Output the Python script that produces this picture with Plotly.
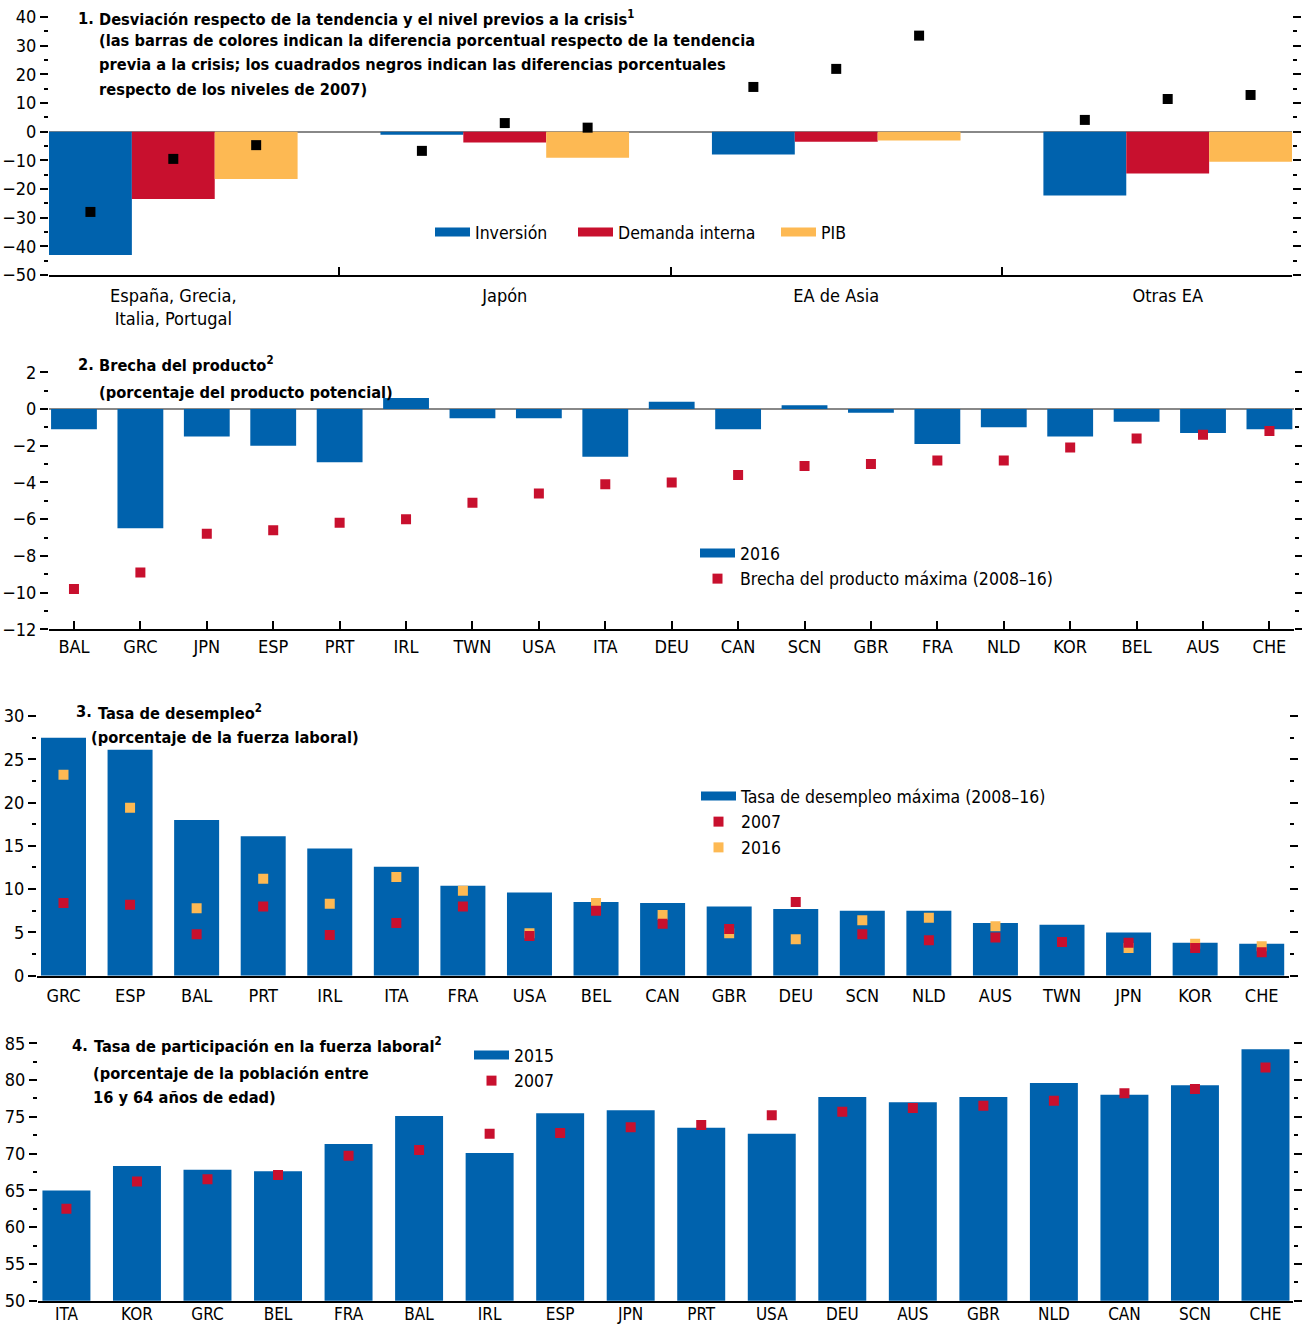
import plotly.graph_objects as go

W, H = 1302, 1325
FONT = "Liberation Sans Narrow, DejaVu Sans Condensed, Arial Narrow, sans-serif"
BLUE = "#0062ad"
RED = "#c8102e"
YELLOW = "#fdb953"
BLACK = "#000000"

# ---------------- panel 1 data ----------------
p1_groups = ["España, Grecia,<br>Italia, Portugal", "Japón", "EA de Asia", "Otras EA"]
p1_trend_inv = [-43.0, -1.1, -8.0, -22.3]
p1_trend_dem = [-23.5, -3.8, -3.5, -14.6]
p1_trend_pib = [-16.5, -9.1, -3.1, -10.5]
p1_lvl_inv = [-28.0, -6.7, 15.6, 4.1]
p1_lvl_dem = [-9.5, 3.0, 21.9, 11.4]
p1_lvl_pib = [-4.7, 1.4, 33.5, 12.8]

# ---------------- panel 2 data ----------------
p2_cty = ["BAL", "GRC", "JPN", "ESP", "PRT", "IRL", "TWN", "USA", "ITA", "DEU",
          "CAN", "SCN", "GBR", "FRA", "NLD", "KOR", "BEL", "AUS", "CHE"]
p2_gap_2016 = [-1.1, -6.5, -1.5, -2.0, -2.9, 0.6, -0.5, -0.5, -2.6, 0.4,
               -1.1, 0.2, -0.2, -1.9, -1.0, -1.5, -0.7, -1.3, -1.1]
p2_gap_max = [-9.8, -8.9, -6.8, -6.6, -6.2, -6.0, -5.1, -4.6, -4.1, -4.0,
              -3.6, -3.1, -3.0, -2.8, -2.8, -2.1, -1.6, -1.4, -1.2]

# ---------------- panel 3 data ----------------
p3_cty = ["GRC", "ESP", "BAL", "PRT", "IRL", "ITA", "FRA", "USA", "BEL", "CAN",
          "GBR", "DEU", "SCN", "NLD", "AUS", "TWN", "JPN", "KOR", "CHE"]
p3_max = [27.5, 26.1, 18.0, 16.1, 14.7, 12.6, 10.4, 9.6, 8.5, 8.4,
          8.0, 7.7, 7.5, 7.5, 6.1, 5.9, 5.0, 3.8, 3.7]
p3_2007 = [8.4, 8.2, 4.8, 8.0, 4.7, 6.1, 8.0, 4.6, 7.5, 6.0,
           5.4, 8.5, 4.8, 4.1, 4.4, 3.9, 3.8, 3.2, 2.7]
p3_2016 = [23.2, 19.4, 7.8, 11.2, 8.3, 11.4, 9.8, 4.9, 8.4, 7.0,
           4.9, 4.2, 6.4, 6.7, 5.7, 3.9, 3.2, 3.7, 3.4]

# ---------------- panel 4 data ----------------
p4_cty = ["ITA", "KOR", "GRC", "BEL", "FRA", "BAL", "IRL", "ESP", "JPN", "PRT",
          "USA", "DEU", "AUS", "GBR", "NLD", "CAN", "SCN", "CHE"]
p4_2015 = [65.0, 68.3, 67.8, 67.6, 71.3, 75.1, 70.1, 75.5, 75.9, 73.5,
           72.7, 77.7, 77.0, 77.7, 79.6, 78.0, 79.3, 84.2]
p4_2007 = [62.5, 66.2, 66.5, 67.1, 69.7, 70.5, 72.7, 72.8, 73.6, 73.9,
           75.2, 75.7, 76.2, 76.5, 77.2, 78.2, 78.8, 81.7]


def fx(p):
    return p / W


def fy(p):
    return 1 - p / H


fig = go.Figure()

# panel 1: bars grouped per region, black squares centred on each bar
pos = list(range(len(p1_groups)))
p1 = [
    ("Inversión", p1_trend_inv, p1_lvl_inv, BLUE, "legend"),
    ("Demanda interna", p1_trend_dem, p1_lvl_dem, RED, "legend5"),
    ("PIB", p1_trend_pib, p1_lvl_pib, YELLOW, "legend6"),
]
for name, vals, lvls, col, leg in p1:
    fig.add_trace(go.Bar(x=pos, y=vals, marker_color=col, marker_line_width=0,
                         showlegend=False, xaxis="x", yaxis="y"))
for k, (name, vals, lvls, col, leg) in enumerate(p1):
    fig.add_trace(go.Scatter(x=[p + (k - 1) * 0.25 for p in pos], y=lvls, mode="markers",
                             marker=dict(symbol="square", size=10, color=BLACK),
                             showlegend=False, xaxis="x", yaxis="y"))
for name, vals, lvls, col, leg in p1:
    fig.add_trace(go.Scatter(x=[None], y=[None], mode="lines", name=name,
                             line=dict(color=col, width=9), legend=leg,
                             xaxis="x", yaxis="y"))

# panel 2
fig.add_trace(go.Bar(x=p2_cty, y=p2_gap_2016, width=0.69, marker_color=BLUE,
                     marker_line_width=0, showlegend=False, xaxis="x2", yaxis="y2"))
fig.add_trace(go.Scatter(x=p2_cty, y=p2_gap_max, mode="markers",
                         marker=dict(symbol="square", size=10, color=RED),
                         showlegend=False, xaxis="x2", yaxis="y2"))
fig.add_trace(go.Scatter(x=[None], y=[None], mode="lines", name="2016",
                         line=dict(color=BLUE, width=9), legend="legend2",
                         xaxis="x2", yaxis="y2"))
fig.add_trace(go.Scatter(x=[None], y=[None], mode="markers",
                         name="Brecha del producto máxima (2008–16)",
                         marker=dict(symbol="square", size=10, color=RED),
                         legend="legend2", xaxis="x2", yaxis="y2"))

# panel 3
fig.add_trace(go.Bar(x=p3_cty, y=p3_max, width=0.676, marker_color=BLUE,
                     marker_line_width=0, showlegend=False, xaxis="x3", yaxis="y3"))
fig.add_trace(go.Scatter(x=p3_cty, y=p3_2016, mode="markers",
                         marker=dict(symbol="square", size=10, color=YELLOW),
                         showlegend=False, xaxis="x3", yaxis="y3"))
fig.add_trace(go.Scatter(x=p3_cty, y=p3_2007, mode="markers",
                         marker=dict(symbol="square", size=10, color=RED),
                         showlegend=False, xaxis="x3", yaxis="y3"))
fig.add_trace(go.Scatter(x=[None], y=[None], mode="lines",
                         name="Tasa de desempleo máxima (2008–16)",
                         line=dict(color=BLUE, width=9), legend="legend3",
                         xaxis="x3", yaxis="y3"))
for name, col in [("2007", RED), ("2016", YELLOW)]:
    fig.add_trace(go.Scatter(x=[None], y=[None], mode="markers", name=name,
                             marker=dict(symbol="square", size=10, color=col),
                             legend="legend3", xaxis="x3", yaxis="y3"))

# panel 4
fig.add_trace(go.Bar(x=p4_cty, y=p4_2015, width=0.68, marker_color=BLUE,
                     marker_line_width=0, showlegend=False, xaxis="x4", yaxis="y4"))
fig.add_trace(go.Scatter(x=p4_cty, y=p4_2007, mode="markers",
                         marker=dict(symbol="square", size=10, color=RED),
                         showlegend=False, xaxis="x4", yaxis="y4"))
fig.add_trace(go.Scatter(x=[None], y=[None], mode="lines", name="2015",
                         line=dict(color=BLUE, width=9), legend="legend4",
                         xaxis="x4", yaxis="y4"))
fig.add_trace(go.Scatter(x=[None], y=[None], mode="markers", name="2007",
                         marker=dict(symbol="square", size=10, color=RED),
                         legend="legend4", xaxis="x4", yaxis="y4"))

tickfont = dict(family=FONT, size=18, color=BLACK)
legfont = dict(family=FONT, size=17.5, color=BLACK)


def yax(rng, dtick, mdtick, top, bottom, anchor, zeroline):
    return dict(range=rng, domain=[fy(bottom), fy(top)], anchor=anchor, automargin=False,
                tick0=0, dtick=dtick, ticks="outside", ticklen=8, tickwidth=1.5,
                tickcolor=BLACK, mirror="ticks", showgrid=False, showline=False,
                zeroline=zeroline, zerolinecolor="#888888", zerolinewidth=2,
                minor=dict(tick0=0, dtick=mdtick, ticks="outside", ticklen=4,
                           tickwidth=1.5, tickcolor=BLACK, showgrid=False),
                tickfont=tickfont, fixedrange=True)


def xax(left, right, rng, anchor, **kw):
    d = dict(domain=[fx(left), fx(right)], range=rng, anchor=anchor, automargin=False,
             showgrid=False, zeroline=False, showline=True, linecolor=BLACK,
             linewidth=2, tickfont=tickfont, fixedrange=True)
    d.update(kw)
    return d


def leg(x, y, **kw):
    d = dict(x=fx(x), y=fy(y), xanchor="left", yanchor="top", itemwidth=35,
             bgcolor="rgba(0,0,0,0)", font=legfont)
    d.update(kw)
    return d


fig.update_layout(
    width=W, height=H,
    margin=dict(l=0, r=0, t=0, b=0),
    paper_bgcolor="white", plot_bgcolor="white",
    font=dict(family=FONT, size=18, color=BLACK),
    barmode="group", bargap=0.25, bargroupgap=0,
    xaxis=xax(49, 1292, [-0.375, 3.375], "y", type="linear",
              tickmode="array", tickvals=pos, ticktext=p1_groups, ticks="",
              ticklabelstandoff=3,
              minor=dict(tickmode="array", tickvals=[0.5, 1.5, 2.5],
                         ticks="inside", ticklen=8, tickwidth=1.5, tickcolor=BLACK)),
    yaxis=yax([-50, 40], 10, 5, 17, 275, "x", True),
    xaxis2=xax(49, 1294, [-0.376, 18.37], "y2", type="category",
               ticks="inside", ticklen=8, tickwidth=1.5, tickcolor=BLACK),
    yaxis2=yax([-12, 2], 2, 1, 372.3, 629.3, "x2", True),
    xaxis3=xax(37, 1289, [-0.398, 18.41], "y3", type="category", ticks="",
               ticklabelstandoff=3),
    yaxis3=yax([0, 30], 5, 2.5, 716, 975.7, "x3", False),
    xaxis4=xax(38, 1293, [-0.403, 17.39], "y4", type="category", ticks="",
               ticklabelstandoff=-3, tickfont=dict(family=FONT, size=17, color=BLACK)),
    yaxis4=yax([50, 85], 5, 2.5, 1043.3, 1300.7, "x4", False),
    legend=leg(430, 232, orientation="h", yanchor="middle"),
    legend5=leg(573, 232, orientation="h", yanchor="middle"),
    legend6=leg(776, 232, orientation="h", yanchor="middle"),
    legend2=leg(695, 535),
    legend3=leg(696, 778),
    legend4=leg(469, 1037),
)

# panel titles
titles = [
    (76, 18, "1."),
    (97, 18, "Desviación respecto de la tendencia y el nivel previos a la crisis<sup>1</sup>"),
    (97, 41, "(las barras de colores indican la diferencia porcentual respecto de la tendencia"),
    (97, 65, "previa a la crisis; los cuadrados negros indican las diferencias porcentuales"),
    (97, 89, "respecto de los niveles de 2007)"),
    (76, 364, "2."),
    (97, 364, "Brecha del producto<sup>2</sup>"),
    (97, 392, "(porcentaje del producto potencial)"),
    (74, 712, "3."),
    (96, 712, "Tasa de desempleo<sup>2</sup>"),
    (89, 737, "(porcentaje de la fuerza laboral)"),
    (70, 1045, "4."),
    (92, 1045, "Tasa de participación en la fuerza laboral<sup>2</sup>"),
    (91, 1073, "(porcentaje de la población entre"),
    (91, 1097, "16 y 64 años de edad)"),
]
for x, y, txt in titles:
    fig.add_annotation(x=fx(x), y=fy(y), xref="paper", yref="paper", text="<b>" + txt + "</b>",
                       showarrow=False, xanchor="left", yanchor="middle",
                       font=dict(family=FONT, size=16.3, color=BLACK))

# drop the browser's default body margin so the figure fills the window
fig.write_html("out.html", config={"displayModeBar": False},
               post_script="document.body.style.margin='0px';")
